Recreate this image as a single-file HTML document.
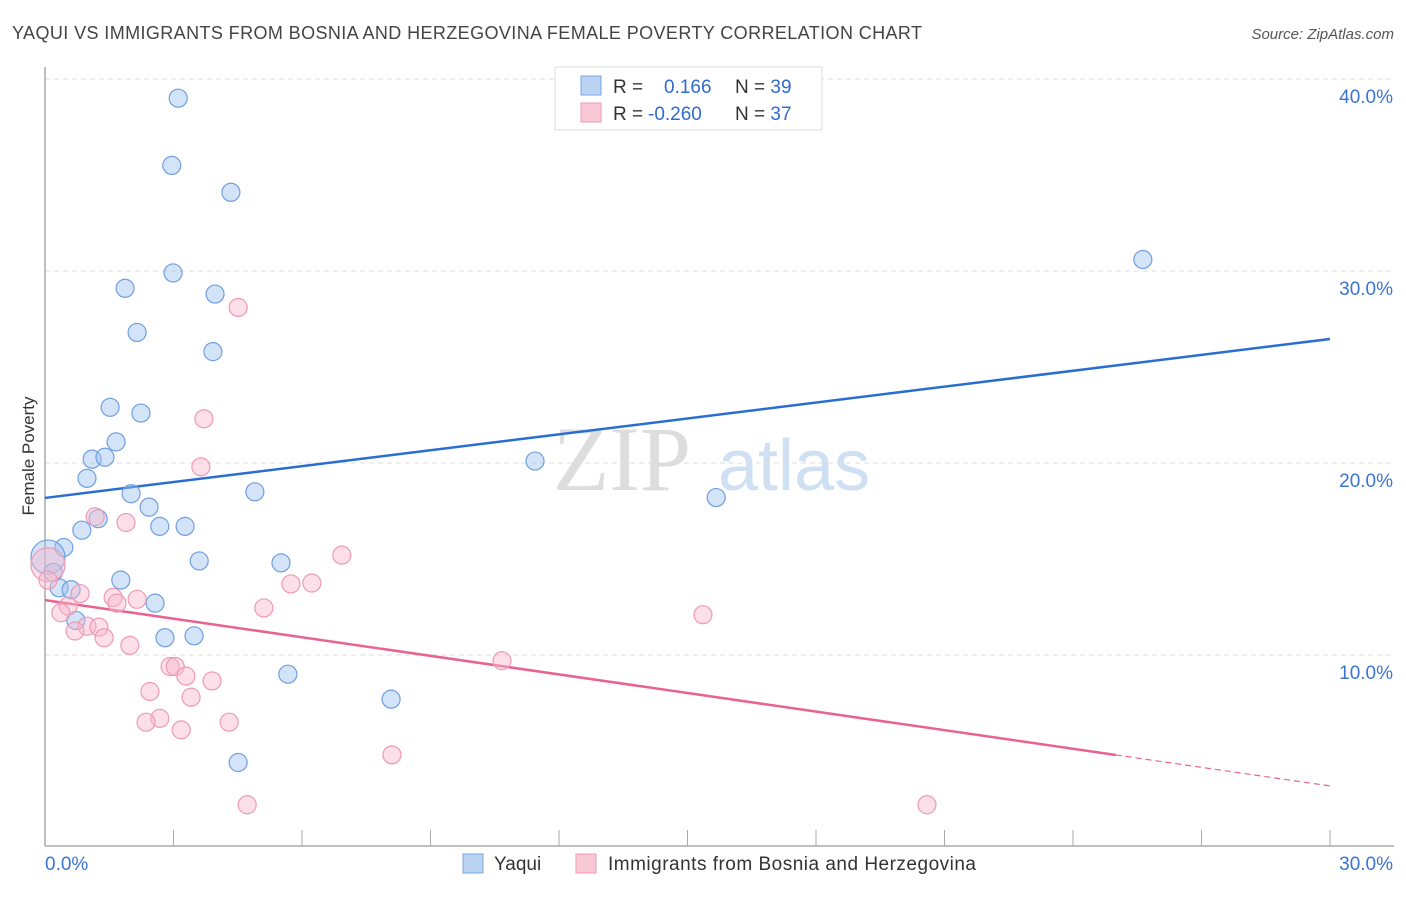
<!DOCTYPE html>
<html><head><meta charset="utf-8"><style>
body{margin:0;background:#fff;font-family:"Liberation Sans",sans-serif;}
</style></head><body>
<svg id="c" width="1406" height="892" xmlns="http://www.w3.org/2000/svg">
<text x="12" y="39" font-size="18" fill="#444" textLength="910">YAQUI VS IMMIGRANTS FROM BOSNIA AND HERZEGOVINA FEMALE POVERTY CORRELATION CHART</text>
<text x="1394" y="39" font-size="15" fill="#555" font-style="italic" text-anchor="end">Source: ZipAtlas.com</text>
<text x="0" y="0" font-size="17" fill="#333" transform="translate(34,456) rotate(-90)" text-anchor="middle">Female Poverty</text>
<g><text x="553" y="490" font-size="92" fill="#ddd" font-family="Liberation Serif,serif">ZIP</text><text x="718" y="490" font-size="72" fill="#cfe0f3">atlas</text></g>
<g id="grid"></g><g id="trend"></g><g id="pts"></g>
<g>
<rect x="555" y="67" width="267" height="63" fill="#fff" stroke="#ddd"/>
<rect x="581" y="76" width="20" height="19" fill="#bad3f3" stroke="#7aa6e0"/>
<rect x="581" y="103" width="20" height="19" fill="#f9c8d6" stroke="#ef9ab4"/>
<text x="613" y="93" font-size="19" fill="#333">R = <tspan fill="#2f6bd0" x="664">0.166</tspan><tspan x="735" fill="#333">N = </tspan><tspan fill="#2f6bd0">39</tspan></text>
<text x="613" y="120" font-size="19" fill="#333">R = <tspan fill="#2f6bd0" x="648">-0.260</tspan><tspan x="735" fill="#333">N = </tspan><tspan fill="#2f6bd0">37</tspan></text>
</g>
<g>
<rect x="463" y="854" width="20" height="19" fill="#bad3f3" stroke="#7aa6e0"/>
<text x="494" y="870" font-size="19" fill="#333">Yaqui</text>
<rect x="576" y="854" width="20" height="19" fill="#f9c8d6" stroke="#ef9ab4"/>
<text x="608" y="870" font-size="19" fill="#333" textLength="368">Immigrants from Bosnia and Herzegovina</text>
</g>
</svg>
<script>
const xTicks=[0,30];
const yTicks=[10,20,30,40];
const blueX=[3.11,2.96,4.34,2.99,1.87,3.97,2.15,3.92,1.52,2.24,1.66,1.10,1.40,0.98,2.01,4.90,2.43,1.24,0.86,2.68,3.27,0.44,0.07,3.60,5.51,0.19,1.77,0.33,0.61,2.57,0.72,2.80,3.48,5.67,8.08,4.51,11.44,15.67,25.63];
const blueY=[39.0,35.5,34.1,29.9,29.1,28.8,26.8,25.8,22.9,22.6,21.1,20.2,20.3,19.2,18.4,18.5,17.7,17.1,16.5,16.7,16.7,15.6,15.1,14.9,14.8,14.3,13.9,13.5,13.4,12.7,11.8,10.9,11.0,9.0,7.7,4.4,20.1,18.2,30.6];
const pinkX=[4.51,3.71,3.64,1.17,1.89,6.93,0.07,5.74,6.23,0.82,1.59,2.15,1.68,0.54,5.11,0.37,15.36,0.98,1.26,0.70,1.38,1.98,10.67,2.92,3.04,3.29,3.90,2.45,3.41,2.68,2.36,4.30,3.18,8.10,4.72,20.59,0.07];
const pinkY=[28.1,22.3,19.8,17.2,16.9,15.2,14.7,13.7,13.75,13.2,13.0,12.9,12.7,12.55,12.45,12.2,12.1,11.5,11.45,11.25,10.9,10.5,9.7,9.4,9.4,8.9,8.65,8.1,7.8,6.7,6.5,6.5,6.1,4.8,2.2,2.2,13.9];
const blueTrend=[18.18,26.46];
const pinkTrend=[12.86,3.18];
const NS='http://www.w3.org/2000/svg';
const X=v=>45+v/30*1285, Y=v=>847-v*19.2;
function mk(t,a,p){const e=document.createElementNS(NS,t);for(const k in a)e.setAttribute(k,a[k]);document.getElementById(p).appendChild(e);return e;}
yTicks.forEach(t=>{const g=mk('line',{x1:45,x2:1394,y1:Y(t),y2:Y(t),stroke:'#ddd','stroke-dasharray':'5,4'},'grid');


const l=mk('text',{x:1393,y:Y(t)+24,'font-size':19,fill:'#3a74d4','text-anchor':'end'},'grid');l.textContent=t.toFixed(1)+'%';

});
const ax=mk('line',{x1:45,x2:45,y1:67,y2:846,stroke:'#aaa','stroke-width':1.5},'grid');


const bx=mk('line',{x1:45,x2:1394,y1:846,y2:846,stroke:'#aaa','stroke-width':1.5},'grid');


for(let i=0;i<=10;i++){const t=mk('line',{x1:X(i*3),x2:X(i*3),y1:830,y2:846,stroke:'#aaa'},'grid');

}
xTicks.forEach((t,i)=>{const l=mk('text',{x:i?1393:45,y:870,'font-size':19,fill:'#3a74d4','text-anchor':i?'end':'start'},'grid');l.textContent=t.toFixed(1)+'%';

});
const bl=mk('line',{x1:X(0),y1:Y(blueTrend[0]),x2:X(30),y2:Y(blueTrend[1]),stroke:'#2a6dd2','stroke-width':2.5},'trend');


const xs=25;const ym=pinkTrend[0]+(pinkTrend[1]-pinkTrend[0])*xs/30;
const pl=mk('line',{x1:X(0),y1:Y(pinkTrend[0]),x2:X(xs),y2:Y(ym),stroke:'#e8638f','stroke-width':2.5},'trend');


const pd=mk('line',{x1:X(xs),y1:Y(ym),x2:X(30),y2:Y(pinkTrend[1]),stroke:'#e8638f','stroke-width':1.2,'stroke-dasharray':'6,4'},'trend');


blueX.forEach((v,i)=>{const c=mk('circle',{cx:X(v),cy:Y(blueY[i]),r:i==22?17:9,fill:'rgba(160,196,240,0.45)',stroke:'#6f9fe0','stroke-width':1.2},'pts');

});
pinkX.forEach((v,i)=>{const c=mk('circle',{cx:X(v),cy:Y(pinkY[i]),r:i==6?17:9,fill:'rgba(248,185,205,0.45)',stroke:'#ee9ab5','stroke-width':1.2},'pts');

});
</script>
</body></html>
